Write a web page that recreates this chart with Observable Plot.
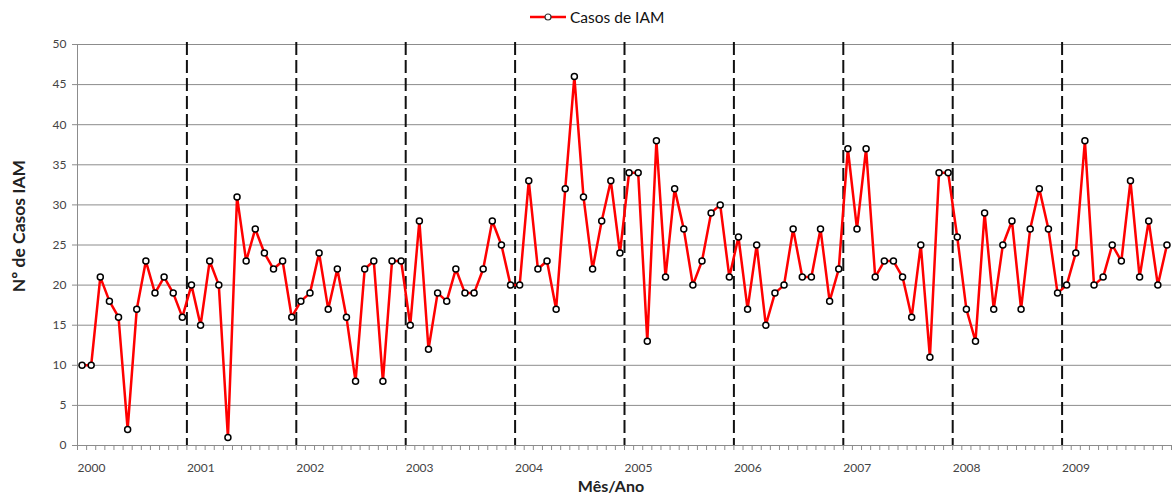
<!DOCTYPE html>
<html><head><meta charset="utf-8">
<script src="https://cdn.jsdelivr.net/npm/d3@7"></script>
<script src="https://cdn.jsdelivr.net/npm/@observablehq/plot@0.6"></script>
<style>
body{margin:0;background:#fff;font-family:Lato,"Open Sans",sans-serif;}
#wrap{position:relative;width:1172px;height:496px;overflow:hidden;}
#legend{position:absolute;left:530px;top:7px;height:20px;display:flex;align-items:center;font-size:15.5px;color:#111;}
#chart{position:absolute;left:0;top:34px;}
.ttl{position:absolute;font-weight:bold;font-size:16px;color:#222;white-space:nowrap;transform:translate(-50%,-50%);}
#ytitle{left:18px;top:226px;font-size:17.5px;transform:translate(-50%,-50%) rotate(-90deg);}
#xtitle{left:611px;top:485px;}
</style></head>
<body><div id="wrap">
<div id="legend"></div>
<div id="chart"></div>
<div id="ytitle" class="ttl"></div>
<div id="xtitle" class="ttl"></div>
</div>
<script>
const seriesName = "Casos de IAM";
const xTitle = "Mês/Ano";
const yTitle = "Nº de Casos IAM";
const years = [2000, 2001, 2002, 2003, 2004, 2005, 2006, 2007, 2008, 2009];
const yTicks = [0, 5, 10, 15, 20, 25, 30, 35, 40, 45, 50];
const c2000 = [10, 10, 21, 18, 16, 2, 17, 23, 19, 21, 19, 16];
const c2001 = [20, 15, 23, 20, 1, 31, 23, 27, 24, 22, 23, 16];
const c2002 = [18, 19, 24, 17, 22, 16, 8, 22, 23, 8, 23, 23];
const c2003 = [15, 28, 12, 19, 18, 22, 19, 19, 22, 28, 25, 20];
const c2004 = [20, 33, 22, 23, 17, 32, 46, 31, 22, 28, 33, 24];
const c2005 = [34, 34, 13, 38, 21, 32, 27, 20, 23, 29, 30, 21];
const c2006 = [26, 17, 25, 15, 19, 20, 27, 21, 21, 27, 18, 22];
const c2007 = [37, 27, 37, 21, 23, 23, 21, 16, 25, 11, 34, 34];
const c2008 = [26, 17, 13, 29, 17, 25, 28, 17, 27, 32, 27, 19];
const c2009 = [20, 24, 38, 20, 21, 25, 23, 33, 21, 28, 20, 25];

const byYear = [c2000, c2001, c2002, c2003, c2004, c2005, c2006, c2007, c2008, c2009];
const data = byYear.flatMap((vals, yi) => vals.map((v, m) => ({i: yi * 12 + m, year: years[yi], month: m + 1, v})));
const n = data.length;
const monthEdges = d3.range(n + 1).map(k => k - 0.5);
const yearStarts = years.map((y, k) => k * 12 - 0.5);
const yearBreaks = yearStarts.slice(1);
const grey = "#8c8c8c";

const chart = Plot.plot({
  width: 1172, height: 462,
  marginTop: 10, marginBottom: 51, marginLeft: 77, marginRight: 1,
  style: {fontFamily: "Lato, 'Open Sans', sans-serif", fontSize: "12px", color: "#444", background: "#fff"},
  x: {domain: [-0.5, n - 0.5]},
  y: {domain: [0, 50]},
  marks: [
    Plot.ruleY(yTicks, {stroke: grey, strokeWidth: 1}),
    Plot.ruleX([-0.5], {stroke: grey, strokeWidth: 1}),
    Plot.axisY({ticks: yTicks, tickSize: 5, tickPadding: 6, stroke: grey, fill: "#444", label: null, fontSize: 12}),
    Plot.axisX({ticks: monthEdges, tickSize: 5, tickFormat: () => "", stroke: grey, label: null}),
    Plot.axisX({ticks: yearStarts, tickSize: 0, tickPadding: 18, tickFormat: d => String(years[Math.round((d + 0.5) / 12)]), textAnchor: "start", fill: "#444", label: null, fontSize: 12}),
    Plot.ruleX(yearBreaks, {stroke: "#111", strokeWidth: 2, strokeDasharray: "13,5", insetTop: -2}),
    Plot.line(data, {x: "i", y: "v", stroke: "#ff0000", strokeWidth: 2.5}),
    Plot.dot(data, {x: "i", y: "v", r: 3, fill: "white", stroke: "black", strokeWidth: 1.5})
  ]
});
document.getElementById("chart").appendChild(chart);
document.getElementById("ytitle").textContent = yTitle;
document.getElementById("xtitle").textContent = xTitle;
document.getElementById("legend").innerHTML =
  `<svg width="38" height="12" style="margin-right:2px"><line x1="0" x2="36" y1="6" y2="6" stroke="#ff0000" stroke-width="2.5"/><circle cx="18" cy="6" r="3" fill="white" stroke="#333" stroke-width="1.2"/></svg><span>${seriesName}</span>`;
</script>
</body></html>
